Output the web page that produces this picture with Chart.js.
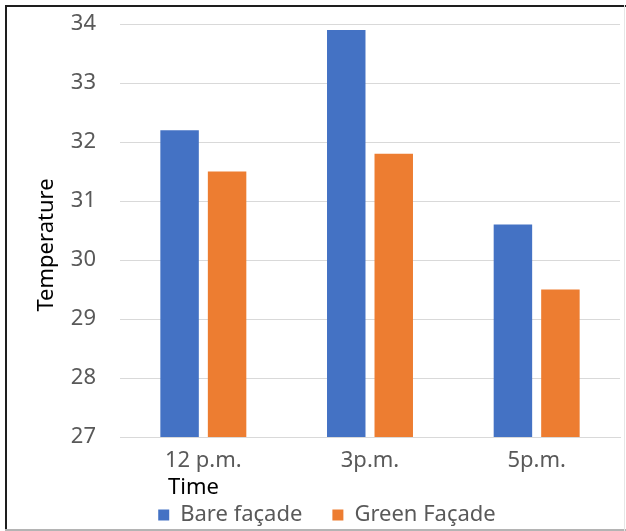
<!DOCTYPE html>
<html>
<head>
<meta charset="utf-8">
<script src="https://cdn.jsdelivr.net/npm/chart.js@4.4.1/dist/chart.umd.min.js"></script>
<style>
  html, body { margin: 0; padding: 0; background: #fff; }
  #wrap { position: relative; width: 626px; height: 531px; overflow: hidden; }
  #c { position: absolute; left: 0; top: 0; }
  .edge { position: absolute; }
</style>
</head>
<body>
<div id="wrap">
  <canvas id="c" width="626" height="531"></canvas>
  <div class="edge" style="left:5px;top:5px;width:621px;height:2px;background:#1e1e1e"></div>
  <div class="edge" style="left:5px;top:5px;width:2px;height:526px;background:#1e1e1e"></div>
  <div class="edge" style="left:5px;top:529px;width:621px;height:2px;background:#b4b4b4"></div>
  <div class="edge" style="left:624px;top:5px;width:1px;height:526px;background:#e6e6e6"></div>
</div>
<script>
// Temperatures at three times of day, bare vs. green façade
const times = ['12 p.m.', '3p.m.', '5p.m.'];
const bareFacade = [32.2, 33.9, 30.6];
const greenFacade = [31.5, 31.8, 29.5];
const yTicks = [27, 28, 29, 30, 31, 32, 33, 34];

const FONT = '"Noto Sans", "Open Sans", sans-serif';
const SIZE = 22;

// Axis titles: "Time" sits just right of the axis start,
// "Temperature" is centred on the full chart height
const axisTitles = {
  id: 'axisTitles',
  afterDraw(chart) {
    const ctx = chart.ctx;
    const x = chart.scales.x;
    ctx.save();
    ctx.font = SIZE + 'px ' + FONT;
    ctx.fillStyle = '#000';
    ctx.textBaseline = 'middle';
    ctx.textAlign = 'left';
    ctx.fillText('Time', x.left + 48, 488);
    ctx.translate(47, 245);
    ctx.rotate(-Math.PI / 2);
    ctx.textAlign = 'center';
    ctx.fillText('Temperature', 0, 0);
    ctx.restore();
  }
};

new Chart(document.getElementById('c'), {
  type: 'bar',
  data: {
    labels: times,
    datasets: [
      { label: 'Bare façade', data: bareFacade, backgroundColor: '#4472C4' },
      { label: 'Green Façade', data: greenFacade, backgroundColor: '#ED7D31' }
    ]
  },
  options: {
    responsive: false,
    animation: false,
    devicePixelRatio: 1,
    layout: { padding: { left: 34, right: 6, top: 24, bottom: -5 } },
    datasets: { bar: { categoryPercentage: 0.57, barPercentage: 0.81 } },
    scales: {
      x: {
        grid: { display: false, drawTicks: false },
        border: { display: true, color: '#d9d9d9', width: 1 },
        ticks: { color: '#595959', font: { family: FONT, size: SIZE }, padding: 11 },
        afterFit(s) { s.height = 37; }
      },
      y: {
        min: 27, max: 34,
        afterBuildTicks(s) { s.ticks = yTicks.map(v => ({ value: v })); },
        // invisible tick marks keep the labels clear of the gridlines
        grid: { color: '#d9d9d9', drawTicks: true, tickLength: 24, tickColor: 'rgba(0,0,0,0)' },
        border: { display: false },
        ticks: { color: '#595959', font: { family: FONT, size: SIZE }, padding: 0 },
        afterFit(s) { s.width = 86; }
      }
    },
    plugins: {
      legend: {
        position: 'bottom',
        labels: {
          color: '#595959',
          font: { family: FONT, size: SIZE },
          boxWidth: 11, boxHeight: 11,
          padding: 30
        }
      },
      tooltip: { enabled: false }
    }
  },
  plugins: [axisTitles]
});
</script>
</body>
</html>
